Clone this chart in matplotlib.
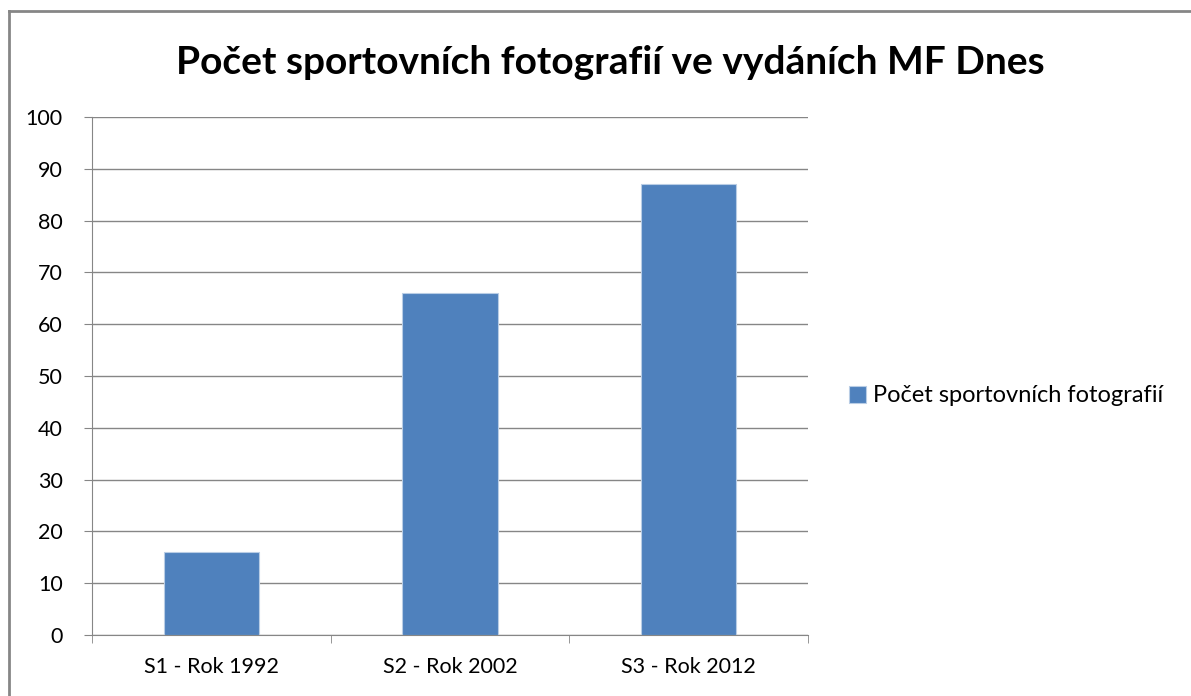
import matplotlib.pyplot as plt
from matplotlib.lines import Line2D

categories = ["S1 - Rok 1992", "S2 - Rok 2002", "S3 - Rok 2012"]
values = [16, 66, 87]
series_name = "Počet sportovních fotografií"
title = "Počet sportovních fotografií ve vydáních MF Dnes"

plt.rcParams["font.family"] = ["Lato", "DejaVu Sans"]

W, H = 1191, 696
fig = plt.figure(figsize=(W / 100, H / 100), dpi=100)
ax = fig.add_axes([92 / W, 1 - 635 / H, (808 - 92) / W, (635 - 117) / H])

grey = "#868686"
x = list(range(len(categories)))
ax.bar(x, values, width=0.4, color="#4F81BD", edgecolor="#B9CDE5",
       linewidth=0.8, label=series_name, zorder=3)

ax.set_xlim(-0.5, len(categories) - 0.5)
ax.set_ylim(0, 100)
ax.set_yticks(range(0, 101, 10))
ax.set_xticks(x)
ax.set_xticklabels(categories)
ax.set_xticks([i - 0.5 for i in range(len(categories) + 1)], minor=True)
ax.tick_params(axis="x", which="major", length=0, pad=16, labelsize=15.5)
ax.tick_params(axis="x", which="minor", length=6, color=grey, direction="out")
ax.tick_params(axis="y", length=6, color=grey, pad=15, labelsize=15.5)

ax.grid(axis="y", color=grey, linewidth=1, zorder=0)
for side in ["top", "right"]:
    ax.spines[side].set_visible(False)
for side in ["left", "bottom"]:
    ax.spines[side].set_color(grey)
    ax.spines[side].set_zorder(4)

fig.text(610 / W, 1 - 62 / H, title, ha="center", va="center",
         fontsize=28, fontweight="bold")

fig.legend(loc="center left", bbox_to_anchor=(828 / W, 1 - 396 / H),
           frameon=False, fontsize=17, handlelength=0.7, handleheight=0.7,
           handletextpad=0.3)

# outer chart frame
fig.add_artist(Line2D([9 / W, 1], [1 - 11 / H, 1 - 11 / H], color=grey,
                      linewidth=2, transform=fig.transFigure))
fig.add_artist(Line2D([9 / W, 9 / W], [0, 1 - 11 / H], color=grey,
                      linewidth=2, transform=fig.transFigure))

fig.savefig("out.png", dpi=100)
